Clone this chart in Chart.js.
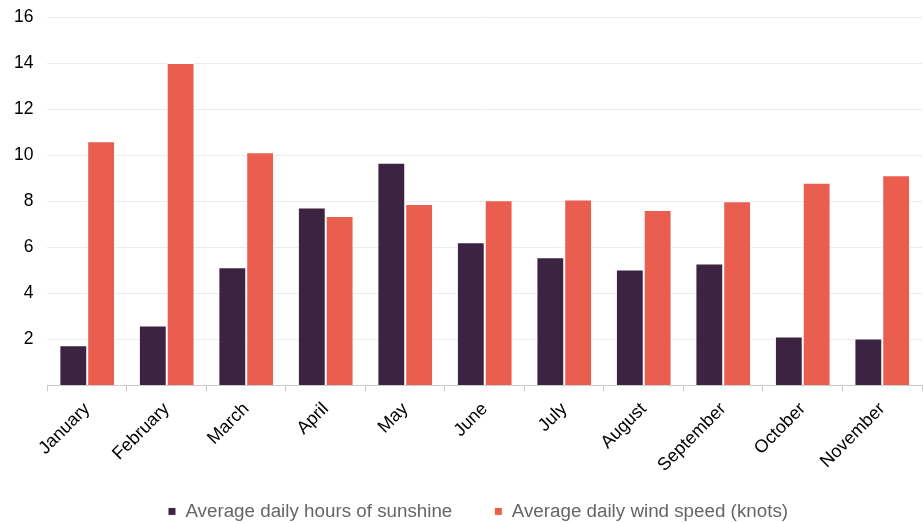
<!DOCTYPE html>
<html>
<head>
<meta charset="utf-8">
<script src="https://cdn.jsdelivr.net/npm/chart.js@4"></script>
<style>
html,body{margin:0;padding:0;background:#fff;}
#wrap{width:923px;height:523px;position:relative;}
</style>
</head>
<body>
<div id="wrap"><canvas id="c"></canvas></div>
<script>
const categories = ["January","February","March","April","May","June","July","August","September","October","November"];
const sunshine = [1.75, 2.6, 5.13, 7.73, 9.67, 6.22, 5.57, 5.04, 5.3, 2.13, 2.04];
const wind = [10.6, 14.0, 10.13, 7.36, 7.88, 8.04, 8.07, 7.62, 8.0, 8.8, 9.13];
const seriesNames = ["Average daily hours of sunshine", "Average daily wind speed (knots)"];
const yTicks = [2, 4, 6, 8, 10, 12, 14, 16];

const legendShift = {
  id: 'legendShift',
  afterLayout(chart) {
    const lg = chart.legend;
    if (lg) {
      lg.left += 17; lg.right += 17;
      lg.top = 460; lg.bottom = 523; lg.height = 63;
    }
  }
};

Chart.defaults.font.family = "'Liberation Sans', Arial, sans-serif";
new Chart(document.getElementById('c'), {
  type: 'bar',
  data: {
    labels: categories,
    datasets: [
      {label: seriesNames[0], data: sunshine, backgroundColor: '#3b2341', borderColor: '#ffffff', borderWidth: 1},
      {label: seriesNames[1], data: wind, backgroundColor: '#e95e4f', borderColor: '#ffffff', borderWidth: 1}
    ]
  },
  plugins: [legendShift],
  options: {
    responsive: true,
    maintainAspectRatio: false,
    animation: false,
    layout: {padding: {top: 0, right: 1, left: 0, bottom: 0}},
    datasets: {bar: {categoryPercentage: 0.7, barPercentage: 1.0}},
    plugins: {
      tooltip: {enabled: false},
      legend: {
        position: 'bottom',
        maxHeight: 40,
        labels: {boxWidth: 8, boxHeight: 8, padding: 42, color: '#666666', font: {size: 18.8}}
      }
    },
    scales: {
      x: {
        border: {color: '#cccccc', width: 1},
        grid: {drawOnChartArea: false, drawTicks: true, tickLength: 6, color: '#cccccc'},
        ticks: {color: '#000000', font: {size: 18}, maxRotation: 45, minRotation: 45, padding: 7}
      },
      y: {
        min: 0, max: 16,
        afterBuildTicks: (axis) => { axis.ticks = [0].concat(yTicks).map(v => ({value: v})); },
        afterFit: (s) => { s.paddingTop = 17; },
        border: {display: false},
        grid: {color: '#ebebeb', drawTicks: false, lineWidth: 1},
        ticks: {color: '#000000', font: {size: 17.5}, padding: 14,
          callback: (v) => v === 0 ? '' : String(v)}
      }
    }
  }
});
</script>
</body>
</html>
